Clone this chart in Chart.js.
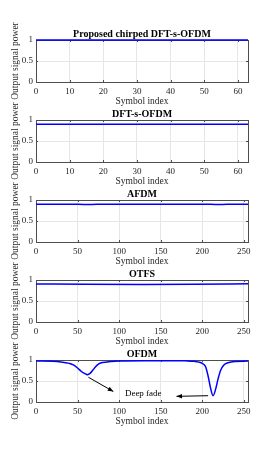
<!DOCTYPE html>
<html>
<head>
<meta charset="utf-8">
<script src="https://cdn.jsdelivr.net/npm/chart.js@4/dist/chart.umd.min.js"></script>
<style>
  body { margin: 0; background: #fff; width: 274px; height: 463px; position: relative; overflow: hidden; }
  canvas { position: absolute; left: 0; }
</style>
</head>
<body>
<script>
// panel titles and x ranges
const titles = ['Proposed chirped DFT-s-OFDM', 'DFT-s-OFDM', 'AFDM', 'OTFS', 'OFDM'];
const xMax = [63, 63, 255, 255, 255];
const xStep = [10, 10, 50, 50, 50];
const yTicks = [0, 0.5, 1];

// output signal power per symbol index
const chirpIdx = [0, 63];
const chirpPow = [1, 1];
const dftIdx = [0, 63];
const dftPow = [0.9, 0.9];
const afdmIdx = [0, 40, 62, 85, 128, 170, 200, 220, 240, 255];
const afdmPow = [0.9, 0.9, 0.892, 0.9, 0.9, 0.9, 0.9, 0.892, 0.9, 0.9];
const otfsIdx = [0, 60, 128, 190, 255];
const otfsPow = [0.905, 0.898, 0.895, 0.899, 0.908];
const ofdmIdx = [0, 20, 30, 40, 45, 50, 55, 60, 62, 65, 70, 75, 80, 90, 100, 130, 160, 180, 190, 196, 200, 204, 207, 210, 213, 216, 219, 222, 226, 232, 240, 255];
const ofdmPow = [0.975, 0.97, 0.955, 0.92, 0.885, 0.81, 0.72, 0.665, 0.65, 0.68, 0.8, 0.9, 0.94, 0.965, 0.978, 0.985, 0.985, 0.98, 0.97, 0.95, 0.92, 0.84, 0.62, 0.33, 0.15, 0.3, 0.55, 0.75, 0.88, 0.94, 0.965, 0.975];

const seriesIdx = [chirpIdx, dftIdx, afdmIdx, otfsIdx, ofdmIdx];
const seriesPow = [chirpPow, dftPow, afdmPow, otfsPow, ofdmPow];

// OFDM annotation (data coordinates)
const fadeLabel = 'Deep fade';
const fadeLabelAt = [129, 0.21];
const fadeArrows = [[63, 0.59, 93, 0.25], [207, 0.15, 169, 0.135]];

const serif = '"Liberation Serif", "Times New Roman", serif';

const frame = {
  id: 'frame',
  beforeDatasetsDraw(chart) {
    const { ctx, chartArea: a, scales } = chart;
    ctx.save();
    // inward ticks
    ctx.strokeStyle = '#262626';
    ctx.lineWidth = 0.8;
    ctx.beginPath();
    scales.x.ticks.forEach(t => {
      const x = Math.round(scales.x.getPixelForValue(t.value)) + 0.5;
      ctx.moveTo(x, a.bottom); ctx.lineTo(x, a.bottom - 2);
      ctx.moveTo(x, a.top); ctx.lineTo(x, a.top + 2);
    });
    scales.y.ticks.forEach(t => {
      const y = Math.round(scales.y.getPixelForValue(t.value)) + 0.5;
      ctx.moveTo(a.left, y); ctx.lineTo(a.left + 2, y);
      ctx.moveTo(a.right, y); ctx.lineTo(a.right - 2, y);
    });
    ctx.stroke();
    // box
    ctx.strokeStyle = '#4d4d4d';
    ctx.lineWidth = 1;
    ctx.strokeRect(Math.round(a.left) + 0.5, Math.round(a.top) + 0.5, Math.round(a.right - a.left), Math.round(a.bottom - a.top));
    ctx.restore();
  },
  afterDraw(chart, args, opts) {
    const { ctx, chartArea: a, scales } = chart;
    ctx.save();
    // title
    ctx.fillStyle = '#000';
    ctx.font = 'bold 10px ' + serif;
    ctx.textAlign = 'center';
    ctx.textBaseline = 'middle';
    ctx.fillText(opts.text, (a.left + a.right) / 2, a.top - 6);
    // annotation
    if (opts.notes) {
      const sx = scales.x, sy = scales.y;
      ctx.font = '9px ' + serif;
      ctx.fillText(fadeLabel, sx.getPixelForValue(fadeLabelAt[0]), sy.getPixelForValue(fadeLabelAt[1]));
      ctx.strokeStyle = '#000';
      ctx.lineWidth = 1;
      fadeArrows.forEach(([x0, y0, x1, y1]) => {
        const p0 = [sx.getPixelForValue(x0), sy.getPixelForValue(y0)];
        const p1 = [sx.getPixelForValue(x1), sy.getPixelForValue(y1)];
        const ang = Math.atan2(p1[1] - p0[1], p1[0] - p0[0]);
        ctx.beginPath();
        ctx.moveTo(p0[0], p0[1]); ctx.lineTo(p1[0], p1[1]);
        ctx.stroke();
        ctx.beginPath();
        ctx.moveTo(p1[0], p1[1]);
        ctx.lineTo(p1[0] - 6 * Math.cos(ang - 0.4), p1[1] - 6 * Math.sin(ang - 0.4));
        ctx.lineTo(p1[0] - 6 * Math.cos(ang + 0.4), p1[1] - 6 * Math.sin(ang + 0.4));
        ctx.closePath();
        ctx.fill();
      });
    }
    ctx.restore();
  }
};

titles.forEach((title, i) => {
  const canvas = document.createElement('canvas');
  canvas.width = 274;
  canvas.height = 90;
  canvas.style.top = (20 + 80 * i) + 'px';
  document.body.appendChild(canvas);

  new Chart(canvas, {
    type: 'line',
    data: {
      datasets: [{
        data: seriesIdx[i].map((x, k) => ({ x: x, y: seriesPow[i][k] })),
        borderColor: '#0000ff',
        borderWidth: 1.5,
        pointRadius: 0,
        cubicInterpolationMode: 'monotone',
        clip: false
      }]
    },
    options: {
      responsive: false,
      animation: false,
      devicePixelRatio: 1,
      layout: { padding: { left: 0, right: 26, top: 20, bottom: 0 } },
      plugins: {
        legend: { display: false },
        tooltip: { enabled: false },
        frame: { text: title, notes: i === 4 }
      },
      scales: {
        x: {
          type: 'linear',
          min: 0,
          max: xMax[i],
          grid: { color: '#e6e6e6', drawTicks: false },
          border: { display: false },
          ticks: {
            stepSize: xStep[i],
            includeBounds: false,
            maxRotation: 0,
            padding: 4,
            color: '#262626',
            font: { family: serif, size: 9 }
          },
          title: {
            display: true,
            text: 'Symbol index',
            color: '#262626',
            font: { family: serif, size: 9.5 },
            padding: { top: 0, bottom: 3 }
          },
          afterFit(s) { s.height = 28; }
        },
        y: {
          min: 0,
          max: 1,
          afterBuildTicks(s) { s.ticks = yTicks.map(v => ({ value: v })); },
          grid: { color: '#e6e6e6', drawTicks: false },
          border: { display: false },
          ticks: {
            padding: 3,
            color: '#262626',
            font: { family: serif, size: 9 },
            callback: v => String(v)
          },
          title: {
            display: true,
            text: 'Output signal power',
            color: '#262626',
            font: { family: serif, size: 9.5 },
            padding: { top: 10, bottom: 0 }
          },
          afterFit(s) { s.width = 36; }
        }
      }
    },
    plugins: [frame]
  });
});
</script>
</body>
</html>
